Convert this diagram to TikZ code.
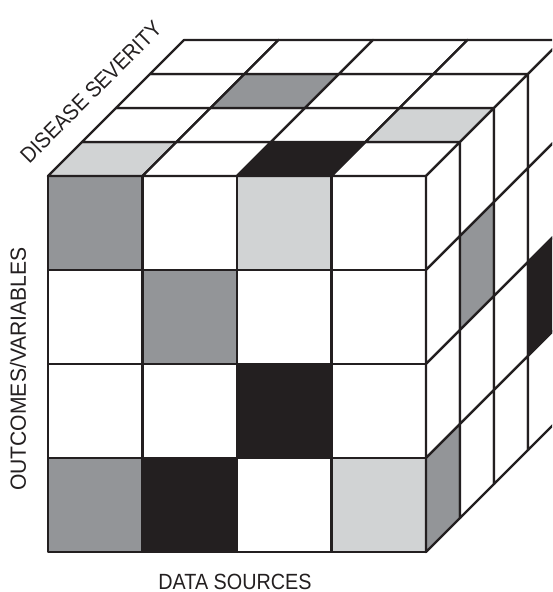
\documentclass[tikz,border=0pt]{standalone}
\usepackage{fontspec}
\setmainfont{Liberation Sans}
\definecolor{ink}{HTML}{231F20}
\definecolor{midgray}{HTML}{939598}
\definecolor{palegray}{HTML}{D1D3D4}
\begin{document}
\begin{tikzpicture}[x=1pt,y=-1pt,
  cell/.style={draw=ink,line width=2.4pt,line join=round},
  lab/.style={font=\fontsize{22}{26}\selectfont,text=ink,inner sep=0pt}]
\def\cw{94.5}\def\ch{94}\def\dd{34}
\useasboundingbox (0,0) rectangle (552,592);
\begin{scope}
\clip (0,0) rectangle (552,592);
% front face
\foreach \j/\a/\b/\c/\d in {0/midgray/white/palegray/white,
                            1/white/midgray/white/white,
                            2/white/white/ink/white,
                            3/midgray/ink/white/palegray}{
  \foreach \i/\f in {0/\a,1/\b,2/\c,3/\d}
    \draw[cell,fill=\f] ({48+\i*\cw},{176+\j*\ch}) rectangle ++(\cw,\ch);
}
% top face
\foreach \k/\a/\b/\c/\d in {0/palegray/white/ink/white,
                            1/white/white/white/palegray,
                            2/white/midgray/white/white,
                            3/white/white/white/white}{
  \foreach \i/\f in {0/\a,1/\b,2/\c,3/\d}
    \draw[cell,fill=\f] ({48+\i*\cw+\k*\dd},{176-\k*\dd}) -- ++(\cw,0) -- ++(\dd,-\dd) -- ++(-\cw,0) -- cycle;
}
% right face
\foreach \k/\a/\b/\c/\d in {0/white/white/white/midgray,
                            1/white/midgray/white/white,
                            2/white/white/white/white,
                            3/white/white/ink/white}{
  \foreach \j/\f in {0/\a,1/\b,2/\c,3/\d}
    \draw[cell,fill=\f] ({426+\k*\dd},{176+\j*\ch-\k*\dd}) -- ++(\dd,-\dd) -- ++(0,\ch) -- ++(-\dd,\dd) -- cycle;
}
\end{scope}
% labels
\node[lab,xscale=0.9] (ds) at (235,582) {DATA SOURCES};
\node[lab,rotate=90,xscale=0.96] (ov) at (18,369) {OUTCOMES/VARIABLES};
\node[lab,rotate=45,xscale=0.9] (sev) at (91,92) {DISEASE SEVERITY};
\end{tikzpicture}
\end{document}
